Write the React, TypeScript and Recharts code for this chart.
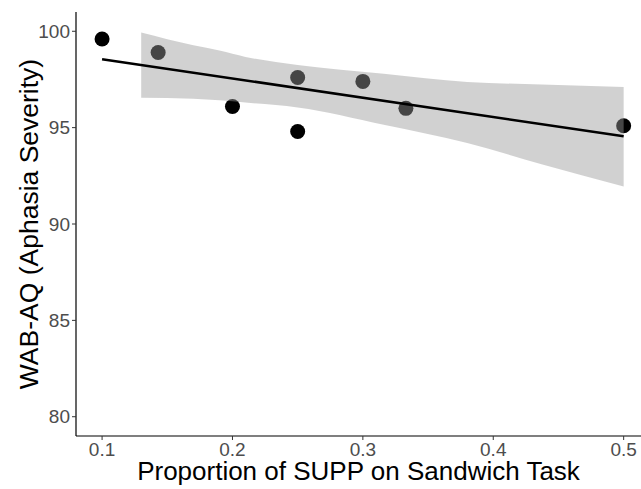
import {
  ComposedChart,
  Scatter,
  Area,
  Line,
  XAxis,
  YAxis,
} from "recharts";

// observed participants
const suppProportion = [0.1, 0.143, 0.2, 0.25, 0.25, 0.3, 0.333, 0.5];
const wabAq = [99.6, 98.9, 96.1, 97.6, 94.8, 97.4, 96.0, 95.1];

// fitted line ends
const fitX = [0.1, 0.5];
const fitY = [98.55, 94.55];

// confidence band
const bandX = [0.13, 0.17, 0.19, 0.21, 0.25, 0.316, 0.38, 0.437, 0.5];
const bandLow = [96.55, 96.5, 96.42, 96.3, 96.05, 95.15, 94.2, 93.1, 91.95];
const bandHigh = [99.93, 99.27, 99.0, 98.67, 98.25, 97.8, 97.37, 97.24, 97.11];

const xTicks = [0.1, 0.2, 0.3, 0.4, 0.5];
const yTicks = [80, 85, 90, 95, 100];

const points = suppProportion.map((x, i) => ({ x, y: wabAq[i] }));
const fit = fitX.map((x, i) => ({ x, y: fitY[i] }));
const band = bandX.map((x, i) => ({ x, range: [bandLow[i], bandHigh[i]] }));

const font = "'Liberation Sans', Arial, Helvetica, sans-serif";
const tickStyle = { fontSize: 19, fill: "#4d4d4d", fontFamily: font };

const Dot = (props: any) => (
  <circle cx={props.cx} cy={props.cy} r={7.5} fill="#000000" />
);

export default function App() {
  return (
    <div style={{ position: "absolute", left: 0, top: 0, background: "#fff" }}>
      <ComposedChart
        width={641}
        height={489}
        margin={{ top: 12, right: 0, bottom: 0, left: 0 }}
      >
        <XAxis
          type="number"
          dataKey="x"
          domain={[0.08, 0.5133]}
          allowDataOverflow
          ticks={xTicks}
          tick={tickStyle}
          fontSize={19}
          tickSize={4}
          tickMargin={3}
          height={53}
          axisLine={{ stroke: "#000", strokeWidth: 1.2 }}
          tickLine={{ stroke: "#333" }}
          label={{
            value: "Proportion of SUPP on Sandwich Task",
            position: "insideBottom",
            offset: 9,
            style: { fontSize: 26, fill: "#000", fontFamily: font },
          }}
        />
        <YAxis
          type="number"
          domain={[79, 101]}
          allowDataOverflow
          ticks={yTicks}
          tick={tickStyle}
          fontSize={19}
          tickSize={4}
          tickMargin={2}
          width={76}
          axisLine={{ stroke: "#000", strokeWidth: 1.2 }}
          tickLine={{ stroke: "#333" }}
          label={{
            value: "WAB-AQ (Aphasia Severity)",
            angle: -90,
            position: "insideLeft",
            offset: 29,
            style: { fontSize: 26.5, fill: "#000", fontFamily: font, textAnchor: "middle" },
          }}
        />
        <Scatter data={points} dataKey="y" shape={Dot} isAnimationActive={false} zIndex={600} />
        <Area
          data={band}
          dataKey="range"
          type="monotone"
          stroke="none"
          fill="#999999"
          fillOpacity={0.45}
          isAnimationActive={false}
          zIndex={650}
        />
        <Line
          data={fit}
          dataKey="y"
          type="linear"
          stroke="#000"
          strokeWidth={2.6}
          dot={false}
          activeDot={false}
          isAnimationActive={false}
          zIndex={700}
        />
      </ComposedChart>
    </div>
  );
}
